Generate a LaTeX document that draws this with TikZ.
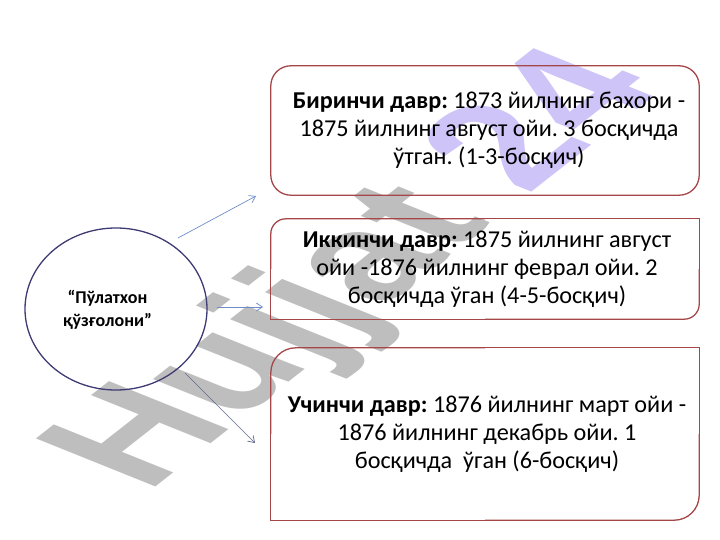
\documentclass[tikz,border=0pt]{standalone}
\usepackage{fontspec}
\setmainfont{Carlito}
\newfontfamily\wmfont{Liberation Sans}
\usetikzlibrary{arrows.meta,shapes.geometric}
\definecolor{boxred}{RGB}{165,70,72}
\definecolor{circblue}{RGB}{62,58,115}
\definecolor{arrblue}{RGB}{110,140,200}
\definecolor{arrdark}{RGB}{95,105,140}
\definecolor{wmgray}{RGB}{190,190,190}
\definecolor{wmlav}{RGB}{206,196,248}
\begin{document}
\frenchspacing
\begin{tikzpicture}[x=1pt,y=-1pt,
  boxtext/.style={font=\fontsize{24.2}{28}\selectfont, align=center, text=black, inner sep=0pt, minimum width=428pt},
  boxline/.style={draw=boxred, line width=1.3pt},
  arr/.style={draw=arrblue, line width=0.7pt, -{Straight Barb[length=6pt,width=8pt]}}]
\useasboundingbox (0,0) rectangle (720,540);
% watermark
\begin{scope}[shift={(362,272)}, xscale=1.78]
\node[rotate=54.4, transform shape, inner sep=0pt, font=\wmfont\bfseries\fontsize{120}{120}\selectfont] (wm) {\textcolor{wmgray}{Hujjat} \textcolor{wmlav}{24}};
\end{scope}
% boxes
\node[boxtext, minimum height=129pt] (b1) at (485,130.5) {};
\node[boxtext, minimum width=0pt] (t1) at (489,130.5) {\textbf{Биринчи давр:} 1873 йилнинг бахори -\\1875 йилнинг август ойи. 3 босқичда\\ўтган. (1-3-босқич)};
\draw[boxline, rounded corners=20pt] (b1.north west) rectangle (b1.south east);
\node[boxtext, minimum height=100pt] (b2) at (485,269) {};
\node[boxtext, minimum width=0pt] (t2) at (487,269) {\textbf{Иккинчи давр:} 1875 йилнинг август\\ойи -1876 йилнинг феврал ойи. 2\\босқичда ўган (4-5-босқич)};
\draw[boxline] (b2.north) -- (b2.north east) -- (b2.east);
\draw[boxline, rounded corners=15pt] (b2.east) -- (b2.south east) -- (b2.south);
\draw[boxline] (b2.south) -- (b2.south west) -- (b2.west);
\draw[boxline, rounded corners=15pt] (b2.west) -- (b2.north west) -- (b2.north);
\node[boxtext, minimum height=172pt] (b3) at (485,434) {};
\node[boxtext, minimum width=0pt] (t3) at (487,434) {\textbf{Учинчи давр:} 1876 йилнинг март ойи -\\1876 йилнинг декабрь ойи. 1\\босқичда~ ўган (6-босқич)};
\draw[boxline] (b3.north) -- (b3.north east) -- (b3.east);
\draw[boxline, rounded corners=25pt] (b3.east) -- (b3.south east) -- (b3.south);
\draw[boxline] (b3.south) -- (b3.south west) -- (b3.west);
\draw[boxline, rounded corners=25pt] (b3.west) -- (b3.north west) -- (b3.north);
% circle
\node[ellipse, draw=circblue, line width=1.3pt, inner sep=0pt, minimum width=182pt, minimum height=162pt] (circ) at (116,309) {};
\node[font=\bfseries\fontsize{18}{23}\selectfont, align=center] (ctext) at (107.5,310) {“Пўлатхон\\қўзғолони”};
% arrows
\coordinate (a1s) at (178,238); \coordinate (a1e) at (256,196);
\coordinate (a2s) at (217,307); \coordinate (a2e) at (263,307);
\coordinate (a3s) at (185,373); \coordinate (a3e) at (255,443);
\draw[arr] (a1s) -- (a1e);
\draw[arr] (a2s) -- (a2e);
\draw[arr, draw=arrdark] (a3s) -- (a3e);
\end{tikzpicture}
\end{document}
